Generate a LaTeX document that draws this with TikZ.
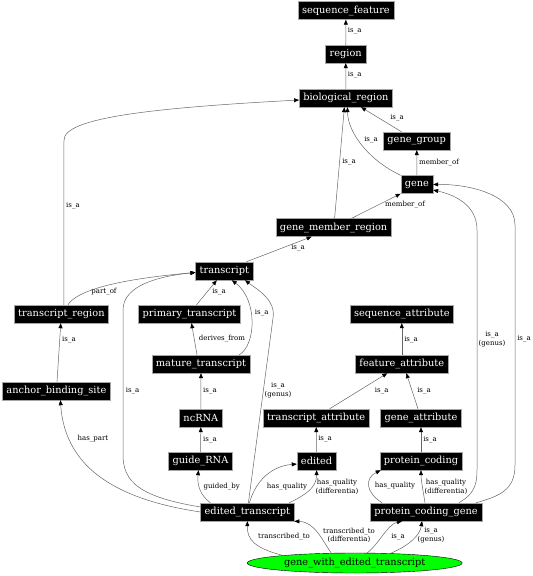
\documentclass[tikz,border=0pt]{standalone}
\usepackage{fontspec}
\setmainfont{DejaVu Serif}
\usetikzlibrary{arrows.meta,shapes.geometric}
\begin{document}
\begin{tikzpicture}[x=1pt,y=-1pt, box/.style={draw=black!35,fill=black,text=white,minimum height=18pt,inner xsep=4pt,inner ysep=1pt,font=\fontsize{9.8}{11}\selectfont}, ell/.style={draw,ellipse,fill=green,minimum width=215pt,minimum height=20pt,inner sep=0pt,font=\fontsize{9.8}{11}\selectfont}, link/.style={->,draw=black!60,line width=0.5pt}, lbl/.style={font=\fontsize{7}{8.5}\selectfont,align=center,inner sep=0pt}, >={Triangle[length=5pt,width=4pt,color=black]}]
\useasboundingbox (0,0) rectangle (533,576);
\node[box] (sf) at (345.9,10.5) {sequence\_feature};
\node[box] (reg) at (345.7,54) {region};
\node[box] (br) at (345.9,98) {biological\_region};
\node[box] (gg) at (416.7,141) {gene\_group};
\node[box] (gene) at (416.9,184.5) {gene};
\node[box] (gmr) at (333.6,227.5) {gene\_member\_region};
\node[box] (tr) at (224.3,271) {transcript};
\node[box] (trr) at (61.4,314) {transcript\_region};
\node[box] (pt) at (189.5,314) {primary\_transcript};
\node[box] (sa) at (401.8,314) {sequence\_attribute};
\node[box] (mt) at (201,364) {mature\_transcript};
\node[box] (fa) at (401.8,364) {feature\_attribute};
\node[box] (abs) at (56.4,391) {anchor\_binding\_site};
\node[box] (nc) at (200.9,418) {ncRNA};
\node[box] (ta) at (316.1,418) {transcript\_attribute};
\node[box] (ga) at (421,418) {gene\_attribute};
\node[box] (grna) at (200.5,461) {guide\_RNA};
\node[box] (ed) at (316.6,461) {edited};
\node[box] (pc) at (421,461) {protein\_coding};
\node[box] (et) at (247.4,512) {edited\_transcript};
\node[box] (pcg) at (426,512) {protein\_coding\_gene};
\node[ell] (gwet) at (354.7,563) {gene\_with\_edited\_transcript};
\draw[link] (reg) -- (sf) node[lbl] at (354.7,31) {is\_a};
\draw[link] (br) -- (reg) node[lbl] at (354.7,75) {is\_a};
\draw[link] (gg) -- (br) node[lbl] at (397,118) {is\_a};
\draw[link] (gene) -- (gg) node[lbl] at (439,163) {member\_of};
\draw[link] (gene.north west) .. controls (372,162) and (348,135) .. ([xshift=1.5pt]br.south) node[lbl] at (371,140) {is\_a};
\draw[link] ([xshift=1pt]gmr.north) -- ([xshift=-1.5pt]br.south) node[lbl] at (349,162) {is\_a};
\draw[link] ([xshift=18pt]gmr.north) -- (gene.south west) node[lbl] at (405,205) {member\_of};
\draw[link] ([xshift=22pt]tr.north) -- ([xshift=-22pt]gmr.south) node[lbl] at (298,248) {is\_a};
\draw[link] ([xshift=2.5pt]trr.north) -- (64,140) .. controls (64,118) and (150,108) .. ([yshift=-2pt]br.west) node[lbl] at (73,206) {is\_a};
\draw[link] ([xshift=6.5pt]trr.north) .. controls (76,292) and (110,280) .. ([yshift=-1.5pt]tr.west) node[lbl] at (104,292) {part\_of};
\draw[link] ([xshift=7pt]pt.north) -- ([xshift=-7.5pt]tr.south) node[lbl] at (219,292) {is\_a};
\draw[link] ([xshift=-4pt]mt.north) -- ([xshift=2pt]pt.south) node[lbl] at (222,339) {derives\_from};
\draw[link] ([xshift=-11pt]mt.north east) .. controls (256,345) and (258,300) .. ([xshift=7.5pt]tr.south) node[lbl] at (261.7,313) {is\_a};
\draw[link] (nc) -- (mt) node[lbl] at (210,391) {is\_a};
\draw[link] (grna) -- (nc) node[lbl] at (210,440) {is\_a};
\draw[link] (abs) -- (trr) node[lbl] at (69,340) {is\_a};
\draw[link] (et.west) .. controls (120,500) and (65,470) .. ([xshift=4pt]abs.south) node[lbl] at (93,439) {has\_part};
\draw[link] ([yshift=5pt]et.west) .. controls (140,497) and (123,482) .. (123,455) -- (123,310) .. controls (123,285) and (160,276) .. ([yshift=-1.5pt]tr.west) node[lbl] at (132.6,391) {is\_a};
\draw[link] ([xshift=1pt]et.north) -- (273,318) .. controls (276,300) and (258,290) .. ([xshift=20.7pt]tr.south) node[lbl] at (278,390) {is\_a\\(genus)};
\draw[link] ([xshift=-37pt]et.north) .. controls (200,495) and (197,485) .. ([xshift=-2pt]grna.south) node[lbl] at (221.7,487) {guided\_by};
\draw[link] ([xshift=2pt]et.north) .. controls (256,480) and (272,466) .. ([yshift=-3pt]ed.west) node[lbl] at (287,487) {has\_quality};
\draw[link] ([xshift=-5pt]et.north east) .. controls (305,495) and (316.6,488) .. (ed.south) node[lbl] at (337,487) {has\_quality\\(differentia)};
\draw[link] (ed) -- (ta) node[lbl] at (325,439) {is\_a};
\draw[link] ([xshift=13.5pt]ta.north) -- ([xshift=-14.5pt]fa.south) node[lbl] at (381.7,391) {is\_a};
\draw[link] ([xshift=-3pt]ga.north) -- ([xshift=4.5pt]fa.south) node[lbl] at (424,391) {is\_a};
\draw[link] (fa) -- (sa) node[lbl] at (411,339.7) {is\_a};
\draw[link] (pc) -- (ga) node[lbl] at (430,439.7) {is\_a};
\draw[link] ([xshift=12pt]pcg.north west) .. controls (365,492) and (365,478) .. ([xshift=1pt]pc.south west) node[lbl] at (395,486) {has\_quality};
\draw[link] ([xshift=-1pt]pcg.north) .. controls (423,490) and (421,480) .. (pc.south) node[lbl] at (446,487) {has\_quality\\(differentia)};
\draw[link] ([xshift=-23pt]pcg.north east) .. controls (472,495) and (477,488) .. (477,470) -- (477,230) .. controls (477,205) and (455,195) .. ([yshift=-5.5pt]gene.east) node[lbl] at (492,339) {is\_a\\(genus)};
\draw[link] ([xshift=-6pt]pcg.north east) .. controls (500,496) and (515,490) .. (515,465) -- (515,225) .. controls (515,195) and (470,184) .. (gene.east) node[lbl] at (524,339) {is\_a};
\draw[link] (gwet.174) .. controls (255,548) and (247,540) .. (et.south) node[lbl] at (284,536.7) {transcribed\_to};
\draw[link] (gwet.157) .. controls (322,540) and (315,522) .. (et.south east) node[lbl] at (349,535.5) {transcribed\_to\\(differentia)};
\draw[link] (gwet.39) .. controls (378,545) and (388,524) .. ([xshift=-24pt]pcg.south) node[lbl] at (398,536.7) {is\_a};
\draw[link] (gwet.15) .. controls (410,545) and (420,535) .. ([xshift=-4pt]pcg.south) node[lbl] at (431,535) {is\_a\\(genus)};
\end{tikzpicture}
\end{document}
